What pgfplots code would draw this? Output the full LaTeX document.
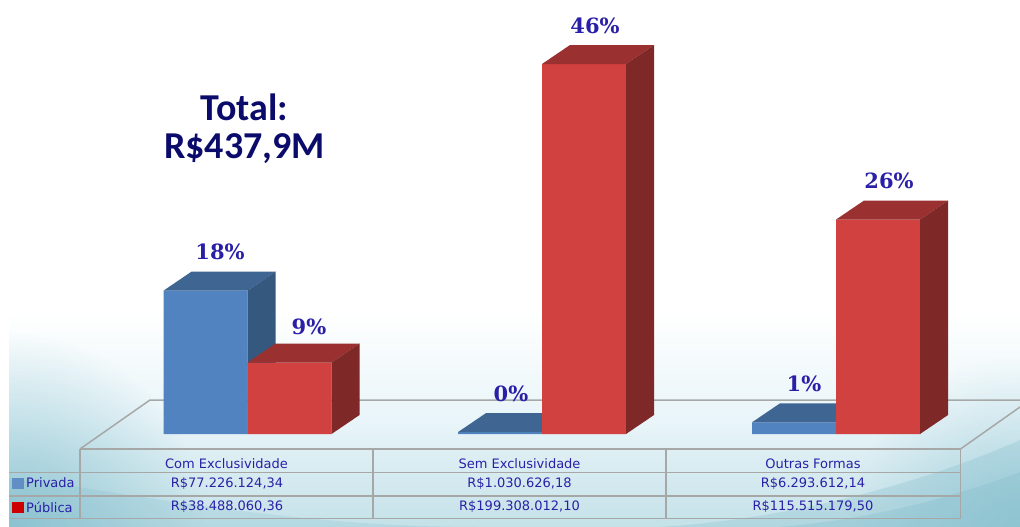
\documentclass[border=0pt]{standalone}
\usepackage{pgfplots}
\pgfplotsset{compat=1.18}
\usetikzlibrary{fadings}
\usepackage{fontspec}
\setmainfont{DejaVu Sans}
\newfontfamily\titlefont{Carlito}
\newfontfamily\pctfont{DejaVu Serif}

\definecolor{privFront}{HTML}{5083BF}
\definecolor{privTop}{HTML}{3F6592}
\definecolor{privSide}{HTML}{35587F}
\definecolor{pubFront}{HTML}{D04140}
\definecolor{pubTop}{HTML}{9B3030}
\definecolor{pubSide}{HTML}{7F2828}
\definecolor{ink}{HTML}{2A20A8}
\definecolor{navy}{HTML}{0B0B6B}
\definecolor{rule}{HTML}{A6A8A8}
\definecolor{wash}{HTML}{E9F5F9}
\definecolor{washlow}{HTML}{C4E1E8}
\definecolor{sweep}{HTML}{7FBCCB}

\tikzfading[name=softglow,inner color=transparent!0,outer color=transparent!100]

% Depth of the bar blocks: pixels across, millions of reais up
\pgfmathsetmacro{\depthx}{28}
\pgfmathsetmacro{\depthy}{10.235}

% Top and side faces of a bar: left edge, right edge, value, two colours
\newcommand{\barfaces}[5]{%
  \addplot[fill=#4,draw=none,forget plot] coordinates
    {(#1,#3) ({#1+\depthx},{#3+\depthy}) ({#2+\depthx},{#3+\depthy}) (#2,#3) (#1,#3)};
  \addplot[fill=#5,draw=none,forget plot] coordinates
    {(#2,0) ({#2+\depthx},\depthy) ({#2+\depthx},{#3+\depthy}) (#2,#3) (#2,0)};
}
\newcommand{\cell}[3]{\node[text=ink,font=\fontsize{13}{15}\selectfont,anchor=center] at (#1,#2) {#3};}
\newcommand{\pct}[3]{\node[text=ink,font=\pctfont\bfseries\fontsize{21}{24}\selectfont] at (#1,#2) {#3};}

\begin{document}
\begin{tikzpicture}
% Page furniture in pixel units: backdrop, floor, table, captions
\begin{axis}[
  at={(0,0)},anchor=south west,
  scale only axis,width=1020pt,height=527pt,
  xmin=0,xmax=1020,ymin=0,ymax=527,y dir=reverse,
  hide axis,clip=true]
  \fill[white] (0,0) rectangle (1020,527);
  \begin{scope}
    \clip (9,300) rectangle (1020,527);
    \shade[top color=white,bottom color=wash] (9,310) rectangle (1020,420);
    \shade[top color=wash,bottom color=washlow] (9,420) rectangle (1020,527);
    % soft darkening towards the lower corners
    \fill[sweep,opacity=0.75,path fading=softglow] (9,527) circle[radius=195pt];
    \fill[sweep,opacity=0.55,path fading=softglow] (1020,527) circle[radius=170pt];
    % sweeps along the lower edge
    \fill[sweep,opacity=0.22] (9,478) .. controls (120,490) and (280,527) .. (480,527) -- (9,527) -- cycle;
    \fill[sweep,opacity=0.28] (660,527) .. controls (800,518) and (930,480) .. (1020,440) -- (1020,527) -- cycle;
    \fill[sweep,opacity=0.30] (780,527) .. controls (880,518) and (960,495) .. (1020,472) -- (1020,527) -- cycle;
  \end{scope}
  % floor
  \draw[rule,line width=1.5pt] (80,449) -- (150,400) -- (1020,400);
  \draw[rule,line width=1.5pt] (960.5,449) -- (1020,407);
  % table grid
  \draw[rule,line width=1.5pt] (80,449) -- (960.5,449);
  \draw[rule,line width=1.5pt] (9,472.5) -- (960.5,472.5);
  \draw[rule,line width=1.5pt] (9,496) -- (960.5,496);
  \draw[rule,line width=1.5pt] (9,518.5) -- (960.5,518.5);
  \foreach \x in {80,373,666,960.5} {
    \edef\temp{\noexpand\draw[rule,line width=1.5pt] (\x,449) -- (\x,518.5);}
    \temp
  }
  % table text
  \cell{226.5}{464}{Com Exclusividade}
  \cell{519.5}{464}{Sem Exclusividade}
  \cell{813}{464}{Outras Formas}
  \cell{227}{484}{R\$77.226.124,34}
  \cell{519.5}{484}{R\$1.030.626,18}
  \cell{813}{484}{R\$6.293.612,14}
  \cell{227}{507}{R\$38.488.060,36}
  \cell{519.5}{507}{R\$199.308.012,10}
  \cell{813}{507}{R\$115.515.179,50}
  % row keys
  \fill[privFront!90!white] (12,478) rectangle (23.5,489);
  \fill[red!80!black] (12,501.5) rectangle (23.5,512.5);
  \node[text=ink,anchor=west,inner sep=0pt,font=\fontsize{13}{15}\selectfont] at (26,483) {Privada};
  \node[text=ink,anchor=west,inner sep=0pt,font=\fontsize{13}{15}\selectfont] at (26,507) {Pública};
  % heading
  \node[text=navy,font=\titlefont\bfseries\fontsize{38}{44}\selectfont] at (244.5,107) {Total:};
  \node[text=navy,font=\titlefont\bfseries\fontsize{38}{44}\selectfont] at (244.5,149) {R\$437,9M};
  % shares above the bars
  \pct{220}{252}{18\%}
  \pct{309}{327}{9\%}
  \pct{511}{394}{0\%}
  \pct{595}{26}{46\%}
  \pct{804}{384}{1\%}
  \pct{889}{181}{26\%}
\end{axis}
% Bars: y is in millions of reais, x in the same pixel units as above
\begin{axis}[
  at={(0,0)},anchor=south west,
  scale only axis,width=1020pt,height=527pt,
  xmin=0,xmax=1020,ymin=-50.09,ymax=233.79,
  hide axis,clip=true]
  \addplot[ybar,bar width=84pt,bar shift=0pt,fill=privFront,draw=none,forget plot]
    coordinates {(205.5,77.226) (500,1.031) (794,6.294)};
  \barfaces{163.5}{247.5}{77.226}{privTop}{privSide}
  \barfaces{458}{542}{1.031}{privTop}{privSide}
  \barfaces{752}{836}{6.294}{privTop}{privSide}
  \addplot[ybar,bar width=84pt,bar shift=0pt,fill=pubFront,draw=none,forget plot]
    coordinates {(289.5,38.488) (584,199.308) (878,115.515)};
  \barfaces{247.5}{331.5}{38.488}{pubTop}{pubSide}
  \barfaces{542}{626}{199.308}{pubTop}{pubSide}
  \barfaces{836}{920}{115.515}{pubTop}{pubSide}
\end{axis}
\end{tikzpicture}
\end{document}
